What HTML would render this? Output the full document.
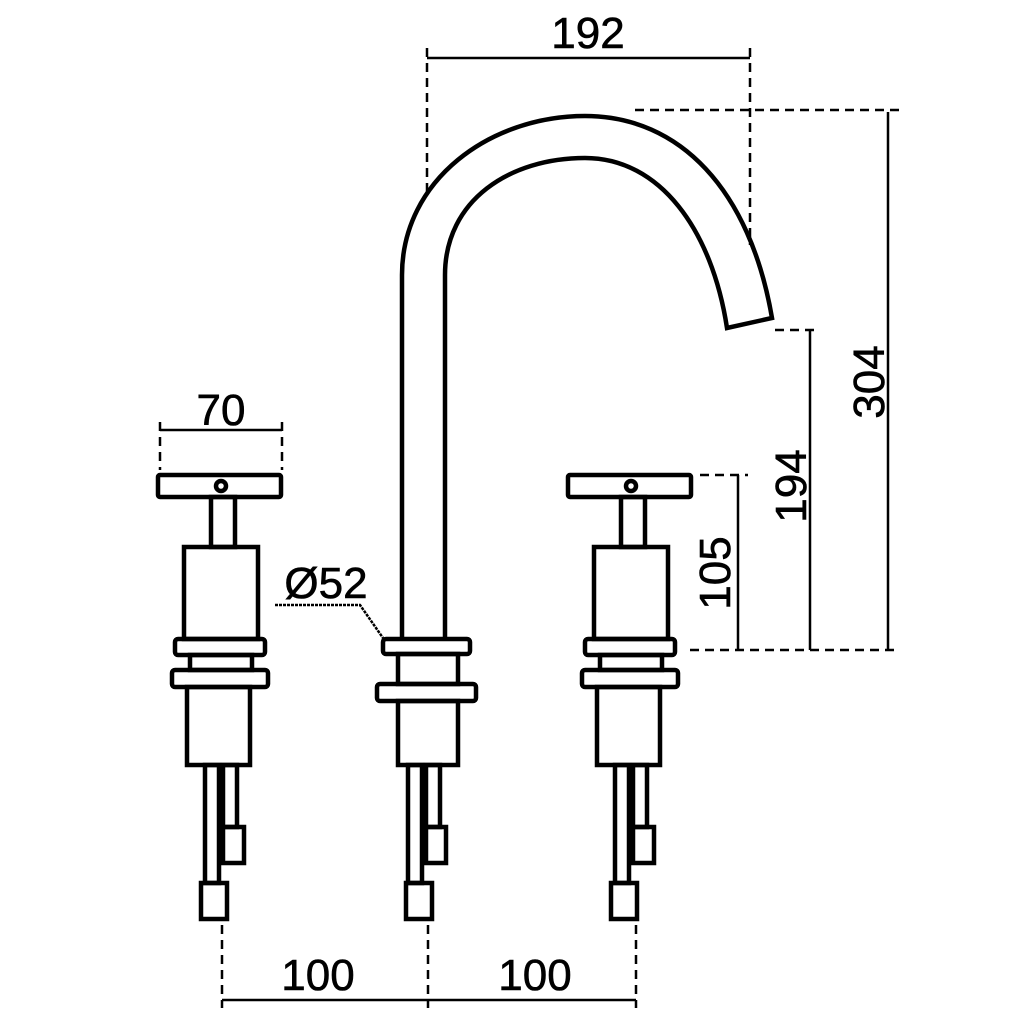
<!DOCTYPE html>
<html><head><style>body{margin:0;background:#fff}svg{display:block}</style></head><body>
<svg width="1024" height="1024" viewBox="0 0 1024 1024" xmlns="http://www.w3.org/2000/svg">
<g fill="none" stroke="#000" stroke-width="4.5">
<path d="M402 640 V275 C402 180 490 116 585 116 C680 116 750 190 772 318 L727 328 C712 230 660 158 585 158 C510 158 445 200 445 275 V640"/>
<rect x="383" y="639" width="87" height="15" rx="3"/>
<rect x="398" y="654" width="60" height="30"/>
<rect x="377" y="684" width="99" height="17" rx="3"/>
<rect x="398" y="701" width="60" height="64"/>
<rect x="408" y="765" width="14" height="118"/>
<rect x="426" y="765" width="14" height="62"/>
<rect x="426" y="827" width="20" height="36"/>
<rect x="406" y="883" width="26" height="36"/>
</g>
<g id="h" fill="none" stroke="#000" stroke-width="4.5">
<rect x="158" y="475" width="123" height="22" rx="2"/>
<circle cx="221" cy="486" r="5"/>
<rect x="211" y="497" width="24" height="50"/>
<rect x="184" y="547" width="74" height="92"/>
<rect x="175" y="639" width="90" height="16" rx="3"/>
<rect x="190" y="655" width="62" height="15"/>
<rect x="172" y="670" width="96" height="17" rx="3"/>
<rect x="187" y="687" width="63" height="78"/>
<rect x="205" y="765" width="14" height="118"/>
<rect x="223" y="765" width="14" height="62"/>
<rect x="223" y="827" width="21" height="36"/>
<rect x="201" y="883" width="26" height="36"/>
</g>
<use href="#h" transform="translate(410,0)"/>
<g stroke="#000" stroke-width="2.5" fill="none">
<line x1="427" y1="58" x2="750" y2="58"/>
<line x1="888" y1="112" x2="888" y2="650"/>
<line x1="810" y1="330" x2="810" y2="650"/>
<line x1="738" y1="475" x2="738" y2="650"/>
<line x1="160" y1="430" x2="282" y2="430"/>
<line x1="222" y1="1000" x2="636" y2="1000"/>
<path d="M275 605 H360 L383 638" stroke-dasharray="3 1"/>
</g>
<g stroke="#000" stroke-width="2.5" fill="none" stroke-dasharray="9 6">
<line x1="427" y1="48" x2="427" y2="195"/>
<line x1="750" y1="48" x2="750" y2="245"/>
<line x1="635" y1="110" x2="900" y2="110"/>
<line x1="775" y1="330" x2="820" y2="330"/>
<line x1="700" y1="475" x2="748" y2="475"/>
<line x1="690" y1="650" x2="898" y2="650"/>
<line x1="160" y1="422" x2="160" y2="470"/>
<line x1="282" y1="422" x2="282" y2="470"/>
<line x1="222" y1="925" x2="222" y2="1008"/>
<line x1="428" y1="925" x2="428" y2="1008"/>
<line x1="636" y1="925" x2="636" y2="1008"/>
</g>
<g font-family="Liberation Sans, sans-serif" font-size="44" fill="#000" text-anchor="middle" stroke="#000" stroke-width="0.6">
<text x="588" y="48">192</text>
<text x="221" y="425">70</text>
<text x="326" y="598">Ø52</text>
<text x="318" y="990">100</text>
<text x="535" y="990">100</text>
<text transform="translate(884,382) rotate(-90)">304</text>
<text transform="translate(806,486) rotate(-90)">194</text>
<text transform="translate(730,573) rotate(-90)">105</text>
</g>
</svg>
</body></html>
